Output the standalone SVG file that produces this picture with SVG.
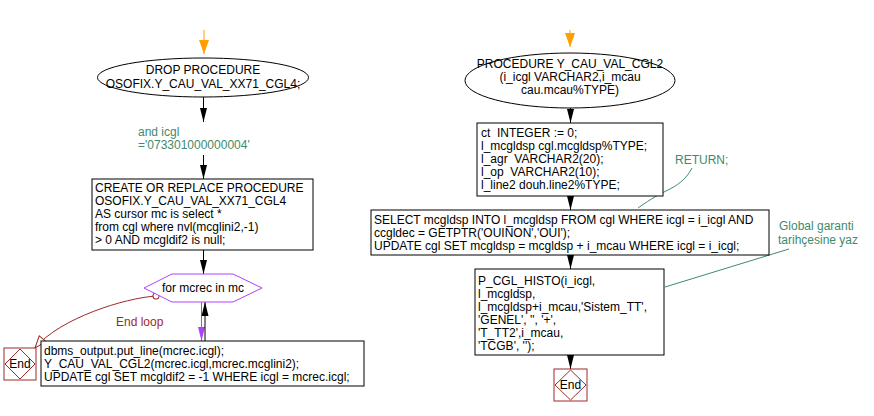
<svg xmlns="http://www.w3.org/2000/svg" width="874" height="416" viewBox="0 0 874 416">
<defs>
<style>
text{font-family:"Liberation Sans",Arial,sans-serif;font-size:12px;fill:#000;white-space:pre}
.c{text-anchor:middle}
.note{fill:#3f8a6c}
.red{fill:#a02828}
.box{fill:#fff;stroke:#000;stroke-width:1}
.ell{fill:#fff;stroke:#000;stroke-width:1}
.end{fill:#fff;stroke:#a02828;stroke-width:1}
.ln{fill:none;stroke:#000;stroke-width:1}
.nl{fill:none;stroke:#3f8a6c;stroke-width:1}
</style>
<marker id="ab" markerUnits="userSpaceOnUse" markerWidth="16" markerHeight="10" refX="14" refY="4" orient="auto"><path d="M0,0.5 L14,4 L0,7.5 z" fill="#000"/></marker>
<marker id="ao" markerUnits="userSpaceOnUse" markerWidth="16" markerHeight="12" refX="14" refY="5" orient="auto"><path d="M0,0 L14,5 L0,10 z" fill="#ffa000"/></marker>
<marker id="ap" markerUnits="userSpaceOnUse" markerWidth="16" markerHeight="10" refX="14" refY="4" orient="auto"><path d="M0,0.5 L14,4 L0,7.5 z" fill="#b040ff"/></marker>
<marker id="ar" markerUnits="userSpaceOnUse" markerWidth="16" markerHeight="12" refX="13" refY="5" orient="auto"><path d="M1,0.5 L13,5 L1,9.5 z" fill="#fff" stroke="#a02828"/></marker>
<marker id="cr" markerUnits="userSpaceOnUse" markerWidth="8" markerHeight="8" refX="4" refY="4" orient="auto"><circle cx="4" cy="4" r="3" fill="#fff" stroke="#a02828"/></marker>
</defs>

<g id="connectors">
<line x1="204" y1="30" x2="204" y2="54" stroke="#ffa000" marker-end="url(#ao)"/>
<line x1="570" y1="30" x2="570" y2="47" stroke="#ffa000" marker-end="url(#ao)"/>
<line class="ln" x1="203.5" y1="97" x2="203.5" y2="122" marker-end="url(#ab)"/>
<line class="ln" x1="203.5" y1="155" x2="203.5" y2="179" marker-end="url(#ab)"/>
<line class="ln" x1="203.5" y1="250" x2="203.5" y2="274" marker-end="url(#ab)"/>
<line x1="201.5" y1="302" x2="201.5" y2="341" stroke="#b040ff" marker-end="url(#ap)"/>
<line class="ln" x1="205" y1="341" x2="205" y2="302" marker-end="url(#ab)"/>
<path d="M156,296 C125,298 60,318 35,348" fill="none" stroke="#a02828" marker-start="url(#cr)" marker-end="url(#ar)"/>
<text class="red" x="116" y="326">End loop</text>
<line class="ln" x1="570.5" y1="108" x2="570.5" y2="123" marker-end="url(#ab)"/>
<line class="ln" x1="570.5" y1="196" x2="570.5" y2="210" marker-end="url(#ab)"/>
<line class="ln" x1="570.5" y1="255" x2="570.5" y2="269" marker-end="url(#ab)"/>
<line class="ln" x1="570.5" y1="355" x2="570.5" y2="369" marker-end="url(#ab)"/>
<path class="nl" d="M692,168 C686,180 676,186 668,190 C660,194 652,198 638,208"/>
<line class="nl" x1="789" y1="249" x2="665" y2="287"/>
</g>

<g id="start1">
<ellipse class="ell" cx="203" cy="77.5" rx="105.5" ry="19.5"/>
<text class="c" x="203" y="74">DROP PROCEDURE</text>
<text class="c" x="203" y="88">OSOFIX.Y_CAU_VAL_XX71_CGL4;</text>
</g>
<g id="label1">
<text class="note" x="138" y="136">and icgl</text>
<text class="note" x="138" y="149">='073301000000004'</text>
</g>
<g id="create">
<rect class="box" x="92" y="179" width="221" height="71"/>
<text x="95" y="192">CREATE OR REPLACE PROCEDURE</text>
<text x="95" y="205">OSOFIX.Y_CAU_VAL_XX71_CGL4</text>
<text x="95" y="218">AS cursor mc is select *</text>
<text x="95" y="231">from cgl where nvl(mcglini2,-1)</text>
<text x="95" y="244">&gt; 0 AND mcgldif2 is null;</text>
</g>
<g id="loop">
<polygon points="144,288 172,274 233,274 262,288 233,302 172,302" fill="#fff" stroke="#b040ff"/>
<text class="c" x="203" y="292">for mcrec in mc</text>
</g>
<g id="body">
<rect class="box" x="41" y="341" width="323" height="45"/>
<text x="44" y="355">dbms_output.put_line(mcrec.icgl);</text>
<text x="44" y="368">Y_CAU_VAL_CGL2(mcrec.icgl,mcrec.mcglini2);</text>
<text x="44" y="381">UPDATE cgl SET mcgldif2 = -1 WHERE icgl = mcrec.icgl;</text>
</g>
<g id="end1">
<rect class="end" x="4" y="348" width="32" height="32"/>
<polygon points="20,349 35,364 20,379 5,364" fill="none" stroke="#a02828"/>
<text class="c" x="20" y="368">End</text>
</g>

<g id="start2">
<ellipse class="ell" cx="570" cy="80.5" rx="105" ry="27.5"/>
<text class="c" x="570" y="68">PROCEDURE Y_CAU_VAL_CGL2</text>
<text class="c" x="570" y="81">(i_icgl VARCHAR2,i_mcau</text>
<text class="c" x="570" y="94">cau.mcau%TYPE)</text>
</g>
<g id="decl">
<rect class="box" x="477" y="123" width="186" height="73"/>
<text x="481" y="137">ct  INTEGER := 0;</text>
<text x="481" y="150">l_mcgldsp cgl.mcgldsp%TYPE;</text>
<text x="481" y="163">l_agr  VARCHAR2(20);</text>
<text x="481" y="176">l_op  VARCHAR2(10);</text>
<text x="481" y="189">l_line2 douh.line2%TYPE;</text>
</g>
<g id="note1">
<text class="note" x="675" y="164">RETURN;</text>
</g>
<g id="select">
<rect class="box" x="371" y="210" width="398" height="45"/>
<text x="374" y="224">SELECT mcgldsp INTO l_mcgldsp FROM cgl WHERE icgl = i_icgl AND</text>
<text x="374" y="237">ccgldec = GETPTR('OUINON','OUI');</text>
<text x="374" y="250">UPDATE cgl SET mcgldsp = mcgldsp + i_mcau WHERE icgl = i_icgl;</text>
</g>
<g id="note2">
<text class="note" x="779" y="230">Global garanti</text>
<text class="note" x="778" y="244">tarihçesine yaz</text>
</g>
<g id="histo">
<rect class="box" x="475" y="269" width="189" height="86"/>
<text x="478" y="285">P_CGL_HISTO(i_icgl,</text>
<text x="478" y="298">l_mcgldsp,</text>
<text x="478" y="311">l_mcgldsp+i_mcau,'Sistem_TT',</text>
<text x="478" y="324">'GENEL', '', '+',</text>
<text x="478" y="337">'T_TT2',i_mcau,</text>
<text x="478" y="350">'TCGB', '');</text>
</g>
<g id="end2">
<rect class="end" x="554" y="369" width="33" height="32"/>
<polygon points="570.5,370 586,385 570.5,400 555,385" fill="none" stroke="#a02828"/>
<text class="c" x="570.5" y="389">End</text>
</g>
</svg>
